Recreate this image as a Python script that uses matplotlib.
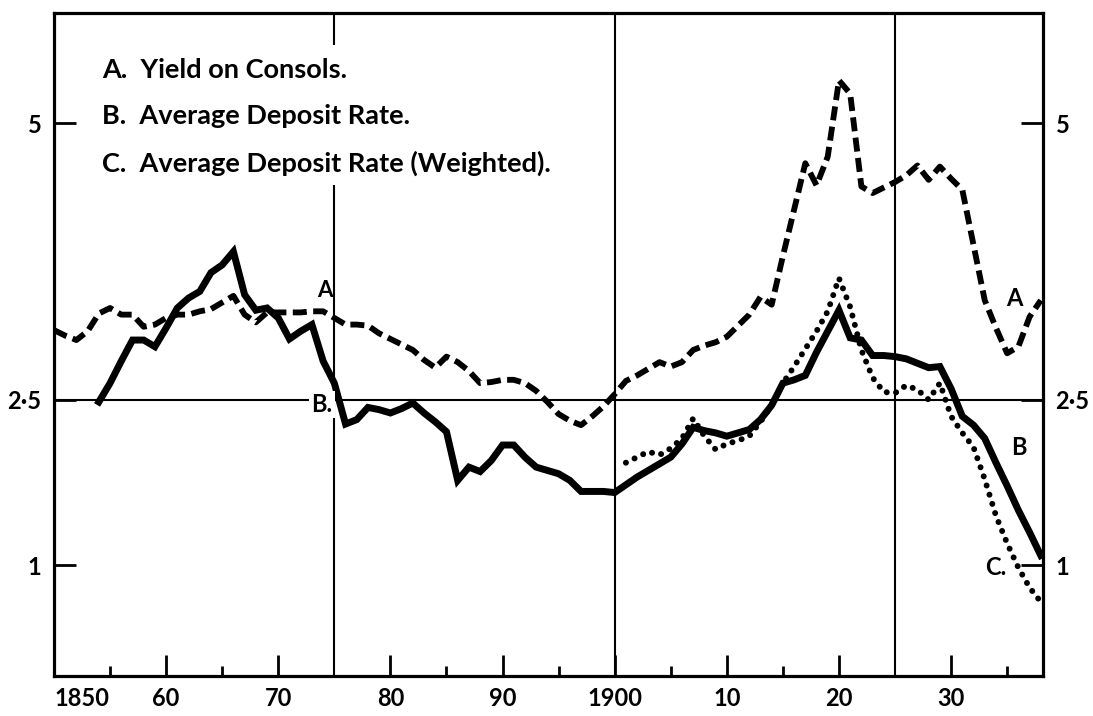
import matplotlib
matplotlib.use('Agg')
import matplotlib.pyplot as plt
from matplotlib.patches import Rectangle

# ---------------- data ----------------
years_a = list(range(1850, 1939))
yield_consols = [3.13, 3.08, 3.04, 3.12, 3.28, 3.33, 3.27, 3.27, 3.16, 3.18,
                 3.24, 3.27, 3.27, 3.30, 3.32, 3.38, 3.44, 3.27, 3.20, 3.29,
                 3.29, 3.29, 3.29, 3.30, 3.30, 3.24, 3.18, 3.18, 3.17, 3.10,
                 3.05, 3.00, 2.95, 2.86, 2.79, 2.89, 2.84, 2.76, 2.65, 2.66,
                 2.68, 2.68, 2.65, 2.58, 2.48, 2.37, 2.31, 2.27, 2.35, 2.44,
                 2.55, 2.67, 2.72, 2.78, 2.84, 2.80, 2.84, 2.95, 2.99, 3.02,
                 3.07, 3.17, 3.27, 3.43, 3.36, 3.80, 4.22, 4.64, 4.44, 4.70,
                 5.39, 5.27, 4.43, 4.37, 4.42, 4.47, 4.53, 4.62, 4.49, 4.61,
                 4.50, 4.40, 3.90, 3.40, 3.15, 2.92, 2.98, 3.25, 3.40]

years_b = list(range(1854, 1939))
deposit_rate = [2.48, 2.65, 2.85, 3.04, 3.04, 2.98,
                3.15, 3.33, 3.42, 3.48, 3.65, 3.72, 3.84, 3.45, 3.31, 3.33,
                3.24, 3.05, 3.12, 3.18, 2.85, 2.65, 2.28, 2.32, 2.43, 2.41,
                2.38, 2.42, 2.47, 2.38, 2.30, 2.21, 1.77, 1.89, 1.85, 1.95,
                2.09, 2.09, 1.98, 1.89, 1.86, 1.83, 1.77, 1.67, 1.67, 1.67,
                1.66, 1.73, 1.80, 1.86, 1.92, 1.98, 2.10, 2.25, 2.22, 2.20,
                2.17, 2.20, 2.23, 2.32, 2.45, 2.65, 2.68, 2.72, 2.93, 3.12,
                3.31, 3.06, 3.04, 2.90, 2.90, 2.89, 2.87, 2.83, 2.79, 2.80,
                2.60, 2.35, 2.27, 2.15, 1.93, 1.72, 1.50, 1.30, 1.09]

years_c = list(range(1901, 1939))
deposit_weighted = [1.93, 1.98, 2.03, 2.00, 2.06, 2.15, 2.33, 2.17, 2.05,
                    2.10, 2.13, 2.17, 2.30, 2.45, 2.65, 2.80, 2.96, 3.12, 3.30,
                    3.60, 3.34, 2.95, 2.70, 2.57, 2.56, 2.63, 2.59, 2.50, 2.65,
                    2.35, 2.20, 2.07, 1.78, 1.45, 1.20, 0.98, 0.80, 0.67]

y_ticks = [1, 2.5, 5]
y_tick_labels = ['1', '2·5', '5']
x_major = [1850, 1860, 1870, 1880, 1890, 1900, 1910, 1920, 1930]
x_major_labels = ['1850', '60', '70', '80', '90', '1900', '10', '20', '30']
x_minor = [1855, 1865, 1885, 1895, 1905, 1915, 1935]
ref_years = [1875, 1900, 1925]
ref_level = 2.5
legend_lines = ['A.  Yield on Consols.',
                'B.  Average Deposit Rate.',
                'C.  Average Deposit Rate (Weighted).']

# ---------------- figure ----------------
plt.rcParams['font.family'] = ['Lato', 'DejaVu Sans']
plt.rcParams['font.weight'] = 'bold'

fig = plt.figure(figsize=(10.93, 7.16), dpi=100)
ax = fig.add_axes([0.0494, 0.0559, 0.9049, 0.9260])
ax.set_xlim(1850, 1938.2)
ax.set_ylim(0, 6.0)

for s in ax.spines.values():
    s.set_linewidth(2.3)
    s.set_zorder(5)

# reference lines
for yr in ref_years:
    ax.axvline(yr, color='black', lw=1.5, zorder=1)
ax.axhline(ref_level, color='black', lw=1.5, zorder=1)

# white area behind legend text (interrupts 1875 line)
ax.add_patch(Rectangle((1853.5, 4.44), 45.0, 1.27, facecolor='white',
                       edgecolor='none', zorder=2))

# series
ax.plot(years_a, yield_consols, color='black', lw=4.2, dashes=(2.4, 1.1),
        zorder=3)
ax.plot(years_b, deposit_rate, color='black', lw=5.0, solid_joinstyle='miter',
        zorder=4)
ax.plot(years_c, deposit_weighted, color='black', lw=4.3, dashes=(0.01, 1.6),
        dash_capstyle='round', zorder=3)

# ticks
ax.set_yticks(y_ticks)
ax.set_yticklabels(y_tick_labels)
ax.tick_params(axis='y', direction='in', length=16, width=2, pad=9,
               labelsize=17, left=True, right=True,
               labelleft=True, labelright=True)
ax.set_xticks(x_major)
ax.set_xticklabels(x_major_labels)
ax.set_xticks(x_minor, minor=True)
ax.tick_params(axis='x', which='major', direction='in', length=15, width=2,
               pad=8, labelsize=17)
ax.tick_params(axis='x', which='minor', direction='in', length=7, width=2)
lbls = ax.get_xticklabels()
lbls[0].set_horizontalalignment('left')

# legend text
for i, t in enumerate(legend_lines):
    ax.text(1854.3, [5.48, 5.07, 4.64][i], t, fontsize=19.5, fontweight='bold',
            va='center', ha='left', zorder=6)

# curve labels
ax.text(1874.2, 3.49, 'A', fontsize=16, ha='center', va='center', zorder=6)
ax.text(1873.9, 2.46, 'B.', fontsize=17, ha='center', va='center', zorder=6,
        bbox=dict(facecolor='white', edgecolor='none', pad=1.5))
ax.text(1935.6, 3.42, 'A', fontsize=17, ha='center', va='center', zorder=6)
ax.text(1936.0, 2.07, 'B', fontsize=17, ha='center', va='center', zorder=6)
ax.text(1934.0, 0.98, 'C.', fontsize=17, ha='center', va='center', zorder=6)

fig.savefig('out.png', dpi=100, facecolor='white')
